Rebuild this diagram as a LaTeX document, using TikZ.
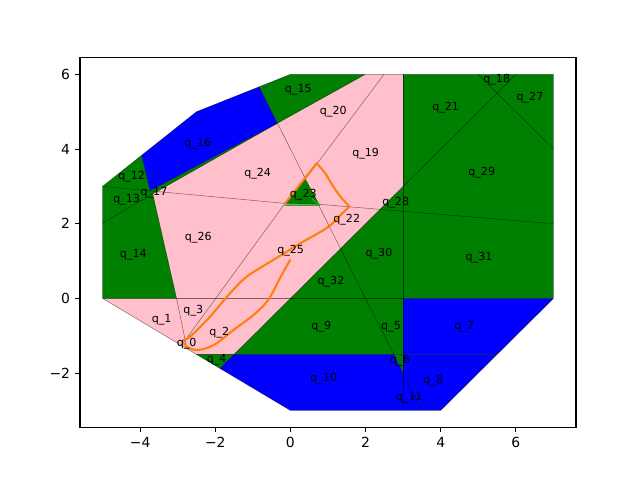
\documentclass[tikz,border=0pt]{standalone}
\usepackage{fontspec}
\setmainfont{DejaVu Sans}
\definecolor{cgreen}{RGB}{0,128,0}
\definecolor{cblue}{RGB}{0,0,255}
\definecolor{cpink}{RGB}{255,192,203}
\definecolor{corange}{RGB}{255,127,14}
\definecolor{cgreenline}{RGB}{44,160,44}
\begin{document}
\begin{tikzpicture}[x=37.576pt,y=37.333pt,
  edge/.style={black, opacity=0.5, line width=0.5pt},
  cell/.style={inner sep=0pt, font=\fontsize{11.1}{13}\selectfont},
  tickmark/.style={line width=1.11pt},
  ticklab/.style={inner sep=0pt, font=\fontsize{13.9}{16}\selectfont},
  traj/.style={corange, line width=2.08pt, line cap=round, line join=round}]
\fill[white] (-290.42pt,-181.6pt) rectangle (349.58pt,298.4pt);
\useasboundingbox (-290.42pt,-181.6pt) rectangle (349.58pt,298.4pt);
% fills
\fill[cpink] (-5,0) -- (-3.03,0) -- (-3.665,2.80) -- (-0.35,4.69) -- (1.99,6) -- (3,6) -- (3,3) -- (-1.5,-1.5) -- (-2.5,-1.5) -- cycle;
\fill[cgreen] (-5,0) -- (-5,3) -- (-3.96,3.832) -- (-3.735,2.885) -- (-0.35,4.69) -- (-3.665,2.80) -- (-3.03,0) -- cycle;
\fill[cgreen] (-0.833,5.667) -- (0,6) -- (1.99,6) -- (-0.35,4.69) -- cycle;
\fill[cblue] (-3.96,3.832) -- (-2.5,5) -- (-0.833,5.667) -- (-0.35,4.69) -- (-3.735,2.885) -- cycle;
\fill[cgreen] (-1.5,-1.5) -- (3,3) -- (3,6) -- (7,6) -- (7,0) -- (3,0) -- (3,-1.5) -- cycle;
\fill[cgreen] (-2.5,-1.5) -- (-1.5,-1.5) -- (-1.875,-1.875) -- cycle;
\fill[cgreen] (2.75,-1.5) -- (3,-1.5) -- (3,-2) -- cycle;
\fill[cblue] (-1.875,-1.875) -- (0,-3) -- (4,-3) -- (5.5,-1.5) -- (3,-1.5) -- (3,-2) -- (2.75,-1.5) -- (-1.5,-1.5) -- cycle;
\fill[cblue] (3,0) -- (7,0) -- (5.5,-1.5) -- (3,-1.5) -- cycle;
\fill[cgreen] (-0.144,2.545) -- (0.395,3.19) -- (0.77,2.52) -- cycle;
% edges
\draw[edge] (-5,0) -- (-5,3) -- (-2.5,5) -- (0,6) -- (7,6) -- (7,0) -- (4,-3) -- (0,-3) -- cycle;
\draw[edge] (-5,0) -- (7,0);
\draw[edge] (-2.5,-1.5) -- (5.5,-1.5);
\draw[edge] (3,6) -- (3,-3);
\draw[edge] (-1.875,-1.875) -- (6,6);
\draw[edge] (5,6) -- (7,4);
\draw[edge] (-5,3) -- (-0.144,2.545) -- (0.77,2.52) -- (7,2);
\draw[edge] (-5,2.02) -- (-3.665,2.80);
\draw[edge] (-3.665,2.80) -- (-3.03,0) -- (-2.8,-1.12) -- (-2.749,-1.35);
\draw[edge] (-2.908,-1.255) -- (-2.8,-1.12) -- (-0.144,2.545) -- (0.395,3.19) -- (2.49,6);
\draw[edge] (-0.833,5.667) -- (3.5,-3);
\draw[edge] (-3.735,2.885) -- (-0.35,4.69);
\draw[edge] (-3.665,2.80) -- (-0.35,4.69) -- (1.99,6);
\draw[edge] (-3.96,3.832) -- (-3.735,2.885);
% trajectories
\draw[cgreenline, line width=1.5pt, line join=round] (-0.144,2.50) -- (0.78,2.50) -- (0.58,2.66);
\draw[traj] plot[smooth, tension=0.55] coordinates {(-0.01,1.03) (-0.28,0.54) (-0.59,-0.04) (-0.99,-0.45) (-1.52,-0.85) (-1.96,-1.20) (-2.32,-1.36) (-2.585,-1.37) (-2.76,-1.29) (-2.86,-1.13) (-2.67,-1.025) (-2.14,-0.49) (-1.65,0.09) (-1.165,0.58) (-0.456,1.03) (0.255,1.47) (0.99,1.90) (1.3,2.2) (1.57,2.46)};
\draw[traj] plot[smooth, tension=0.5] coordinates {(1.57,2.46) (1.32,2.74) (1.10,3.06) (0.92,3.36) (0.70,3.62)} -- (-0.144,2.545);
% cell labels
\node[cell] (q0) at (-2.760,-1.203) {q\_0};
\node[cell] (q1) at (-3.426,-0.560) {q\_1};
\node[cell] (q2) at (-1.893,-0.919) {q\_2};
\node[cell] (q3) at (-2.585,-0.329) {q\_3};
\node[cell] (q4) at (-1.962,-1.631) {q\_4};
\node[cell] (q5) at (2.677,-0.758) {q\_5};
\node[cell] (q6) at (2.916,-1.658) {q\_6};
\node[cell] (q7) at (4.627,-0.758) {q\_7};
\node[cell] (q8) at (3.802,-2.204) {q\_8};
\node[cell] (q9) at (0.822,-0.758) {q\_9};
\node[cell] (q10) at (0.886,-2.140) {q\_10};
\node[cell] (q11) at (3.164,-2.649) {q\_11};
\node[cell] (q12) at (-4.224,3.260) {q\_12};
\node[cell] (q13) at (-4.357,2.654) {q\_13};
\node[cell] (q14) at (-4.181,1.181) {q\_14};
\node[cell] (q15) at (0.210,5.601) {q\_15};
\node[cell] (q16) at (-2.467,4.155) {q\_16};
\node[cell] (q17) at (-3.631,2.831) {q\_17};
\node[cell] (q18) at (5.490,5.850) {q\_18};
\node[cell] (q19) at (2.003,3.868) {q\_19};
\node[cell] (q20) at (1.141,5.001) {q\_20};
\node[cell] (q21) at (4.132,5.119) {q\_21};
\node[cell] (q22) at (1.498,2.100) {q\_22};
\node[cell] (q23) at (0.343,2.788) {q\_23};
\node[cell] (q24) at (-0.871,3.351) {q\_24};
\node[cell] (q25) at (0.007,1.278) {q\_25};
\node[cell] (q26) at (-2.452,1.637) {q\_26};
\node[cell] (q27) at (6.376,5.387) {q\_27};
\node[cell] (q28) at (2.802,2.574) {q\_28};
\node[cell] (q29) at (5.091,3.378) {q\_29};
\node[cell] (q30) at (2.357,1.208) {q\_30};
\node[cell] (q31) at (5.019,1.101) {q\_31};
\node[cell] (q32) at (1.080,0.447) {q\_32};
% axes
\draw[line width=1.11pt] (-5.6,-3.45) rectangle (7.6,6.45);
\foreach \v/\t [count=\i] in {-4/−4,-2/−2,0/0,2/2,4/4,6/6}{
  \draw[tickmark] (\v,-3.45) -- ++(0,-4.86pt);
  \node[ticklab, anchor=north] (xt\i) at ([yshift=-9.72pt]\v,-3.45) {\t};
}
\foreach \v/\t [count=\i] in {-2/−2,0/0,2/2,4/4,6/6}{
  \draw[tickmark] (-5.6,\v) -- ++(-4.86pt,0);
  \node[ticklab, anchor=east] (yt\i) at ([xshift=-9.72pt]-5.6,\v) {\t};
}
\end{tikzpicture}
\end{document}
